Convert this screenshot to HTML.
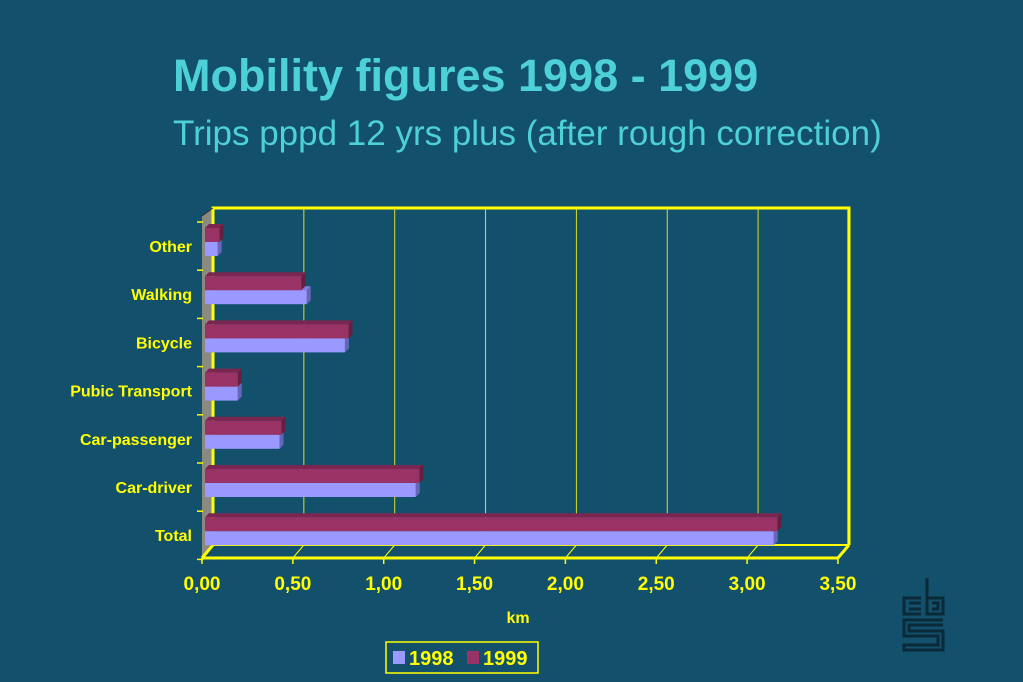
<!DOCTYPE html>
<html><head><meta charset="utf-8"><style>
body{margin:0;background:#13506b;}
#w{position:relative;width:1023px;height:682px;overflow:hidden;background:#13506b;font-family:"Liberation Sans",sans-serif;}
.t{position:absolute;left:173px;color:#4dd0d8;white-space:nowrap}
</style></head><body>
<div id="w">
<div class="t" style="top:50px;font-size:45px;font-weight:bold;">Mobility figures 1998 - 1999</div>
<div class="t" style="top:114px;font-size:35px;">Trips pppd 12 yrs plus (after rough correction)</div>
<svg id="c" width="1023" height="682" style="position:absolute;left:0;top:0"></svg>
</div>
<script>
const categories=["Other","Walking","Bicycle","Pubic Transport","Car-passenger","Car-driver","Total"];
const values1998=[0.07,0.56,0.77,0.18,0.41,1.16,3.13];
const values1999=[0.08,0.53,0.79,0.18,0.42,1.18,3.15];
const ticks=["0,00","0,50","1,00","1,50","2,00","2,50","3,00","3,50"];
const NS="http://www.w3.org/2000/svg",svg=document.getElementById('c');
const X0=202,UNIT=181.7,DX=11,DY=13,FLOOR=558,TOP=208,BACK_BOTTOM=545;
function x(v){return X0+v*UNIT;}
function rowY(i){return 246+i*48.2;}
function add(tag,a,p){const e=document.createElementNS(NS,tag);for(const k in a)e.setAttribute(k,a[k]);(p||svg).appendChild(e);return e;}
let e=add('polygon',{points:`${X0},${TOP+8} ${X0+DX},${TOP} ${X0+DX},${BACK_BOTTOM} ${X0},${FLOOR}`,fill:'#8a8a80'});

ticks.forEach((t,i)=>{const v=i*0.5;const bx=x(v)+DX;
 if(i>0){let g=add('line',{x1:bx,y1:TOP,x2:bx,y2:BACK_BOTTOM,stroke:i==7?'#ffff00':'#d8e020','stroke-width':i==7?3:1});
 }
 let f=add('line',{x1:x(v),y1:FLOOR,x2:bx,y2:BACK_BOTTOM,stroke:'#ffff00','stroke-width':i==0||i==7?3:1});
 
 let tk=add('line',{x1:x(v),y1:FLOOR,x2:x(v),y2:FLOOR+6,stroke:'#ffff00','stroke-width':1.5});
 
 let tl=add('text',{x:x(v),y:FLOOR+32,'text-anchor':'middle',fill:'#ffff00','font-size':19,'font-weight':'bold','font-family':'Liberation Sans, sans-serif'});
 tl.textContent=t;
});
e=add('polyline',{points:`${X0+DX},${BACK_BOTTOM} ${X0+DX},${TOP} ${x(3.5)+DX},${TOP} ${x(3.5)+DX},${BACK_BOTTOM}`,fill:'none',stroke:'#ffff00','stroke-width':3});

e=add('line',{x1:X0+DX,y1:BACK_BOTTOM,x2:x(3.5)+DX,y2:BACK_BOTTOM,stroke:'#ffff00','stroke-width':2});

e=add('line',{x1:X0,y1:FLOOR,x2:x(3.5),y2:FLOOR,stroke:'#ffff00','stroke-width':3});

e=add('line',{x1:X0,y1:TOP+8,x2:X0+DX,y2:TOP,stroke:'#333','stroke-width':1});
for(let i=0;i<=7;i++){let yy=222+i*48.2;let t=add('line',{x1:197,y1:yy,x2:203,y2:yy,stroke:'#ffff00','stroke-width':1.5});
 }
function bar(v,y0,h,front,top,side,name){
 const xs=X0+3,xe=x(v)+3,d=4;
 let g=add('g',{});
 add('polygon',{points:`${xs},${y0} ${xs+d},${y0-d} ${xe+d},${y0-d} ${xe},${y0}`,fill:top},g);
 add('polygon',{points:`${xe},${y0} ${xe+d},${y0-d} ${xe+d},${y0+h-d} ${xe},${y0+h}`,fill:side},g);
 add('rect',{x:xs,y:y0,width:xe-xs,height:h,fill:front},g);
}
categories.forEach((c,i)=>{const cy=rowY(i);
 bar(values1998[i],cy-4,14,'#9999ff','#8080e0','#6666bb','bar-1998-'+i);
 bar(values1999[i],cy-18,14,'#993366','#7a2650','#66203f','bar-1999-'+i);
 let l=add('text',{x:192,y:cy+6,'text-anchor':'end',fill:'#ffff00','font-size':16,'font-weight':'bold','font-family':'Liberation Sans, sans-serif'});
 l.textContent=c;
});
e=add('text',{x:518,y:623,'text-anchor':'middle',fill:'#ffff00','font-size':16,'font-weight':'bold','font-family':'Liberation Sans, sans-serif'});
e.textContent='km';
let lg=add('g',{});
add('rect',{x:386,y:642,width:152,height:31,fill:'none',stroke:'#ffff00','stroke-width':1.5},lg);
add('rect',{x:393,y:651,width:12,height:13,fill:'#9999ff'},lg);
let lt=add('text',{x:409,y:665,fill:'#ffff00','font-size':20,'font-weight':'bold','font-family':'Liberation Sans, sans-serif'},lg);lt.textContent='1998';
add('rect',{x:467,y:651,width:12,height:13,fill:'#993366'},lg);
lt=add('text',{x:483,y:665,fill:'#ffff00','font-size':20,'font-weight':'bold','font-family':'Liberation Sans, sans-serif'},lg);lt.textContent='1999';
let lo=add('g',{fill:'none',stroke:'#0a2a3a','stroke-width':3});
add('polyline',{points:'921,598 904,598 904,614 921,614'},lo);
add('polyline',{points:'909,603 921,603'},lo);add('polyline',{points:'909,609 921,609'},lo);
add('polyline',{points:'927,578 927,614 943,614 943,598 927,598'},lo);
add('polyline',{points:'932,603 938,603 938,609 932,609'},lo);
add('polyline',{points:'943,620 904,620 904,636 938,636 938,645 904,645 904,650 943,650 943,631 909,631 909,625 943,625'},lo);
</script>
</body></html>
